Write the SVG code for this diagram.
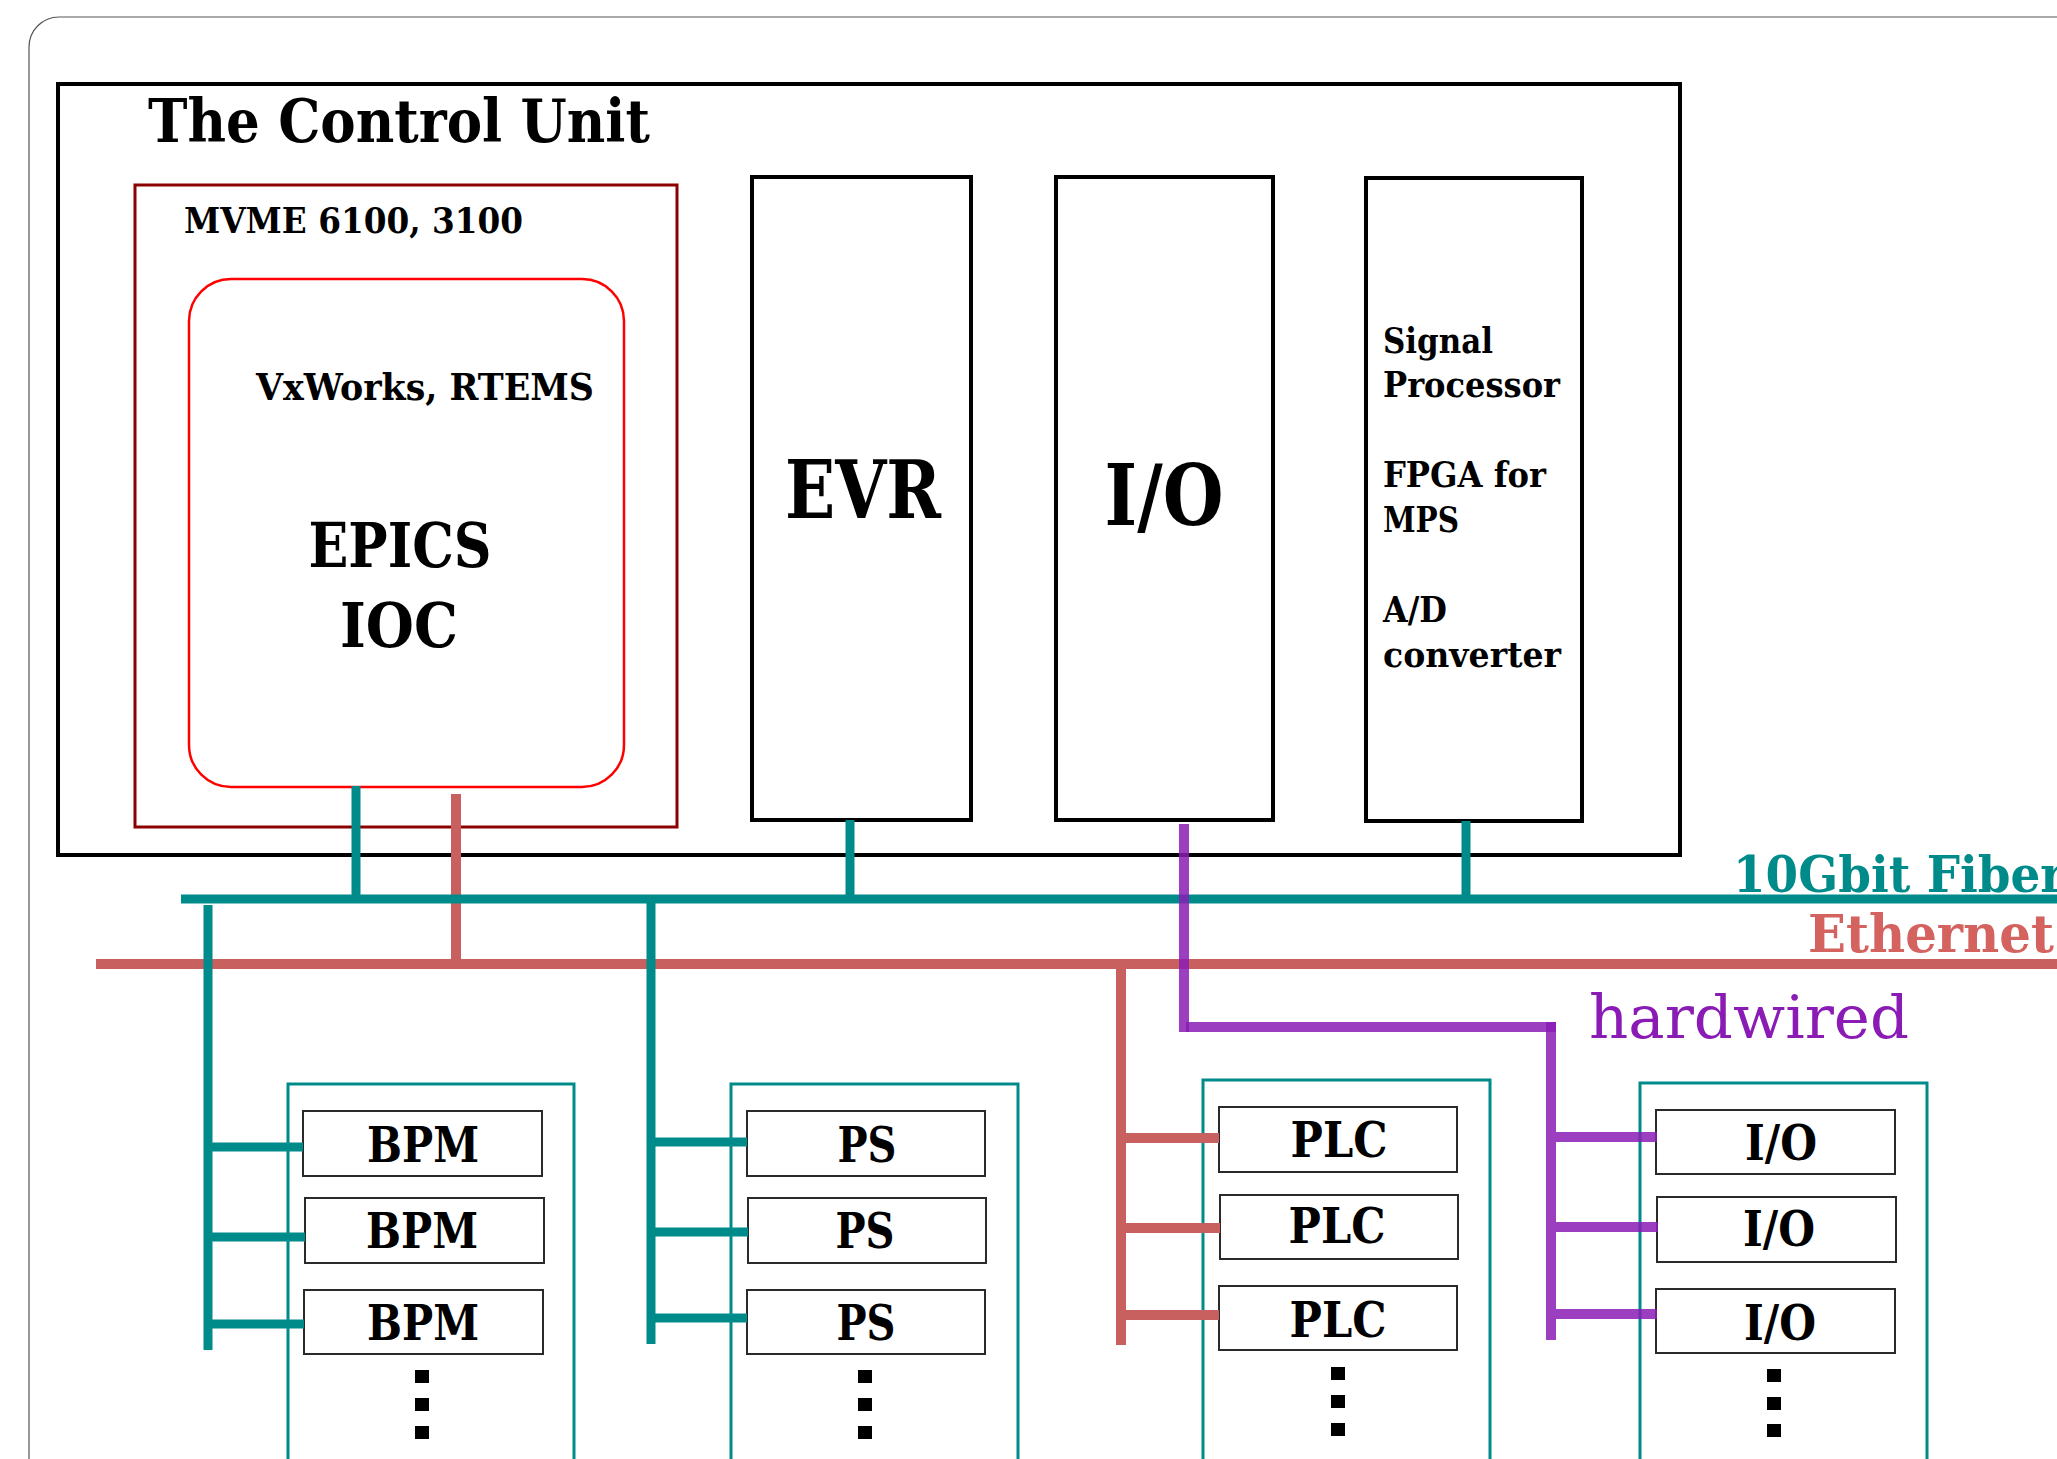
<svg xmlns="http://www.w3.org/2000/svg" width="2057" height="1459" viewBox="0 0 2057 1459">
  <style>
    .t { font-family: "DejaVu Serif", "Liberation Serif", serif; font-weight: bold; fill: #000; }
    .card { fill: #fff; stroke: #000; stroke-width: 4; }
    .rack { fill: #fff; stroke: #008b8b; stroke-width: 3; }
    .slot { fill: #fff; stroke: #2a2a2a; stroke-width: 2; }
    .fiber { stroke: #008b8b; stroke-width: 9; fill: none; }
    .eth { stroke: #c86060; stroke-width: 10; fill: none; }
    .wire { stroke: #8a1cb5; stroke-width: 10; fill: none; stroke-opacity: 0.85; }
    .dot { fill: #000; }
  </style>

  <rect id="frame" x="29" y="17" width="2100" height="1500" rx="30" fill="#fff" stroke="#555" stroke-width="1.2"/>

  <g id="control-unit">
    <rect class="card" x="58" y="84" width="1622" height="771"/>
    <text class="t" x="148" y="142" font-size="60" textLength="502" lengthAdjust="spacingAndGlyphs">The Control Unit</text>
  </g>

  <g id="mvme">
    <rect x="135" y="185" width="542" height="642" fill="none" stroke="#8b0000" stroke-width="3"/>
    <text class="t" x="184" y="233" font-size="36" textLength="339" lengthAdjust="spacingAndGlyphs">MVME 6100, 3100</text>
  </g>

  <g id="epics-ioc">
    <rect x="189" y="279" width="435" height="508" rx="42" fill="none" stroke="#ff0000" stroke-width="2.5"/>
    <text class="t" x="256" y="400" font-size="37" textLength="338" lengthAdjust="spacingAndGlyphs">VxWorks, RTEMS</text>
    <text class="t" x="400" y="567" font-size="62" text-anchor="middle" textLength="183" lengthAdjust="spacingAndGlyphs">EPICS</text>
    <text class="t" x="399" y="647" font-size="62" text-anchor="middle" textLength="118" lengthAdjust="spacingAndGlyphs">IOC</text>
  </g>

  <g id="evr">
    <rect class="card" x="752" y="177" width="219" height="643"/>
    <text class="t" x="863" y="518" font-size="80" text-anchor="middle" textLength="156" lengthAdjust="spacingAndGlyphs">EVR</text>
  </g>

  <g id="io-card">
    <rect class="card" x="1056" y="177" width="217" height="643"/>
    <text class="t" x="1164" y="525" font-size="84" text-anchor="middle" textLength="119" lengthAdjust="spacingAndGlyphs">I/O</text>
  </g>

  <g id="signal-processor">
    <rect class="card" x="1366" y="178" width="216" height="643"/>
    <text class="t" x="1383" y="353" font-size="36" textLength="110" lengthAdjust="spacingAndGlyphs">Signal</text>
    <text class="t" x="1383" y="397" font-size="36" textLength="177" lengthAdjust="spacingAndGlyphs">Processor</text>
    <text class="t" x="1383" y="487" font-size="36" textLength="163" lengthAdjust="spacingAndGlyphs">FPGA for</text>
    <text class="t" x="1383" y="532" font-size="36" textLength="76" lengthAdjust="spacingAndGlyphs">MPS</text>
    <text class="t" x="1383" y="622" font-size="36" textLength="64" lengthAdjust="spacingAndGlyphs">A/D</text>
    <text class="t" x="1383" y="667" font-size="36" textLength="178" lengthAdjust="spacingAndGlyphs">converter</text>
  </g>

  <!-- field racks -->
  <g id="bpm-rack">
    <rect class="rack" x="288" y="1084" width="286" height="420"/>
    <g id="bpm-1"><rect class="slot" x="303" y="1111" width="239" height="65"/><text class="t" x="423" y="1162" font-size="48" text-anchor="middle" textLength="112" lengthAdjust="spacingAndGlyphs">BPM</text></g>
    <g id="bpm-2"><rect class="slot" x="305" y="1198" width="239" height="65"/><text class="t" x="422" y="1248" font-size="48" text-anchor="middle" textLength="112" lengthAdjust="spacingAndGlyphs">BPM</text></g>
    <g id="bpm-3"><rect class="slot" x="304" y="1290" width="239" height="64"/><text class="t" x="423" y="1340" font-size="48" text-anchor="middle" textLength="112" lengthAdjust="spacingAndGlyphs">BPM</text></g>
    <rect class="dot" x="415" y="1370" width="14" height="13"/>
    <rect class="dot" x="415" y="1398" width="14" height="13"/>
    <rect class="dot" x="415" y="1426" width="14" height="13"/>
  </g>

  <g id="ps-rack">
    <rect class="rack" x="731" y="1084" width="287" height="420"/>
    <g id="ps-1"><rect class="slot" x="747" y="1111" width="238" height="65"/><text class="t" x="867" y="1162" font-size="48" text-anchor="middle" textLength="59" lengthAdjust="spacingAndGlyphs">PS</text></g>
    <g id="ps-2"><rect class="slot" x="748" y="1198" width="238" height="65"/><text class="t" x="865" y="1248" font-size="48" text-anchor="middle" textLength="59" lengthAdjust="spacingAndGlyphs">PS</text></g>
    <g id="ps-3"><rect class="slot" x="747" y="1290" width="238" height="64"/><text class="t" x="866" y="1340" font-size="48" text-anchor="middle" textLength="59" lengthAdjust="spacingAndGlyphs">PS</text></g>
    <rect class="dot" x="858" y="1370" width="14" height="13"/>
    <rect class="dot" x="858" y="1398" width="14" height="13"/>
    <rect class="dot" x="858" y="1426" width="14" height="13"/>
  </g>

  <g id="plc-rack">
    <rect class="rack" x="1203" y="1080" width="287" height="420"/>
    <g id="plc-1"><rect class="slot" x="1219" y="1107" width="238" height="65"/><text class="t" x="1339" y="1157" font-size="48" text-anchor="middle" textLength="97" lengthAdjust="spacingAndGlyphs">PLC</text></g>
    <g id="plc-2"><rect class="slot" x="1220" y="1195" width="238" height="64"/><text class="t" x="1337" y="1243" font-size="48" text-anchor="middle" textLength="97" lengthAdjust="spacingAndGlyphs">PLC</text></g>
    <g id="plc-3"><rect class="slot" x="1219" y="1286" width="238" height="64"/><text class="t" x="1338" y="1337" font-size="48" text-anchor="middle" textLength="97" lengthAdjust="spacingAndGlyphs">PLC</text></g>
    <rect class="dot" x="1331" y="1367" width="14" height="13"/>
    <rect class="dot" x="1331" y="1395" width="14" height="13"/>
    <rect class="dot" x="1331" y="1423" width="14" height="13"/>
  </g>

  <g id="io-rack">
    <rect class="rack" x="1640" y="1083" width="287" height="420"/>
    <g id="io-1"><rect class="slot" x="1656" y="1110" width="239" height="64"/><text class="t" x="1781" y="1160" font-size="48" text-anchor="middle" textLength="72" lengthAdjust="spacingAndGlyphs">I/O</text></g>
    <g id="io-2"><rect class="slot" x="1657" y="1197" width="239" height="65"/><text class="t" x="1779" y="1246" font-size="48" text-anchor="middle" textLength="72" lengthAdjust="spacingAndGlyphs">I/O</text></g>
    <g id="io-3"><rect class="slot" x="1656" y="1289" width="239" height="64"/><text class="t" x="1780" y="1340" font-size="48" text-anchor="middle" textLength="72" lengthAdjust="spacingAndGlyphs">I/O</text></g>
    <rect class="dot" x="1767" y="1369" width="14" height="13"/>
    <rect class="dot" x="1767" y="1397" width="14" height="13"/>
    <rect class="dot" x="1767" y="1424" width="14" height="13"/>
  </g>

  <g id="connectors">
    <!-- Ethernet backbone and drops -->
    <line class="eth" x1="96" y1="964" x2="2057" y2="964"/>
    <line class="eth" x1="456" y1="794" x2="456" y2="964"/>
    <line class="eth" x1="1121" y1="964" x2="1121" y2="1345"/>
    <line class="eth" x1="1121" y1="1138" x2="1219" y2="1138"/>
    <line class="eth" x1="1121" y1="1228" x2="1220" y2="1228"/>
    <line class="eth" x1="1121" y1="1315" x2="1219" y2="1315"/>

    <!-- 10Gbit fiber backbone and drops -->
    <line class="fiber" x1="181" y1="899" x2="2057" y2="899"/>
    <line class="fiber" x1="356" y1="786" x2="356" y2="899"/>
    <line class="fiber" x1="850" y1="820" x2="850" y2="899"/>
    <line class="fiber" x1="1466" y1="821" x2="1466" y2="899"/>
    <line class="fiber" x1="208" y1="905" x2="208" y2="1350" stroke-width="10"/>
    <line class="fiber" x1="208" y1="1147" x2="303" y2="1147"/>
    <line class="fiber" x1="208" y1="1237" x2="305" y2="1237"/>
    <line class="fiber" x1="208" y1="1324" x2="304" y2="1324"/>
    <line class="fiber" x1="651" y1="903" x2="651" y2="1344" stroke-width="10"/>
    <line class="fiber" x1="651" y1="1142" x2="747" y2="1142"/>
    <line class="fiber" x1="651" y1="1232" x2="748" y2="1232"/>
    <line class="fiber" x1="651" y1="1318" x2="747" y2="1318"/>

    <!-- hardwired I/O -->
    <line class="wire" x1="1184" y1="824" x2="1184" y2="1032"/>
    <line class="wire" x1="1186" y1="1027" x2="1556" y2="1027"/>
    <line class="wire" x1="1551" y1="1022" x2="1551" y2="1340"/>
    <line class="wire" x1="1556" y1="1137" x2="1657" y2="1137"/>
    <line class="wire" x1="1556" y1="1227" x2="1658" y2="1227"/>
    <line class="wire" x1="1556" y1="1314" x2="1657" y2="1314"/>
  </g>

  <g id="legend">
    <text class="t" x="1733" y="892" font-size="50" style="fill:#008b8b" textLength="332" lengthAdjust="spacingAndGlyphs">10Gbit Fiber</text>
    <text class="t" x="1808" y="952" font-size="52" style="fill:#d4625f" textLength="246" lengthAdjust="spacingAndGlyphs">Ethernet</text>
    <text x="1589" y="1038" font-size="60" font-family="DejaVu Serif, serif" fill="#8a1cb5" textLength="320" lengthAdjust="spacingAndGlyphs">hardwired</text>
  </g>
</svg>
